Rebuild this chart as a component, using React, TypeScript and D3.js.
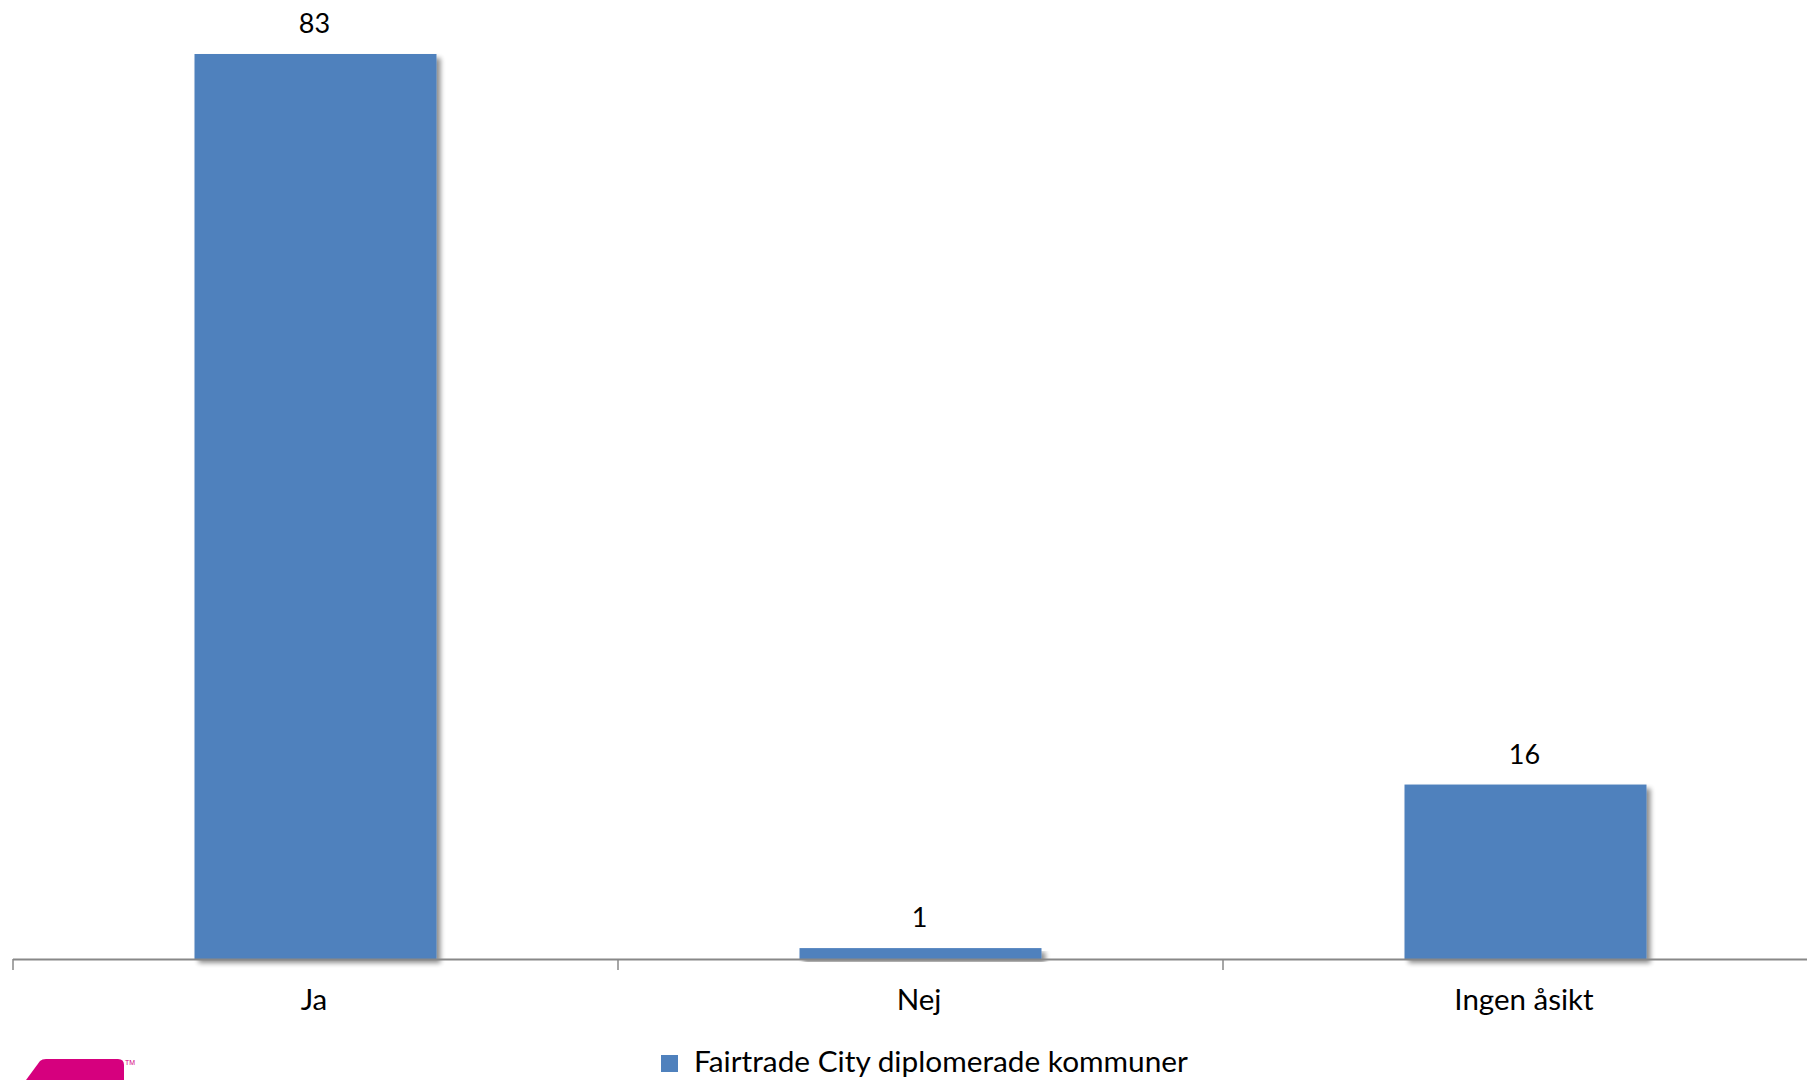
import React from "react";
import * as d3 from "d3";

const categories = ["Ja", "Nej", "Ingen åsikt"];
const values = [83, 1, 16];
const seriesName = "Fairtrade City diplomerade kommuner";

const W = 1807;
const H = 1080;
const FONT = "Lato, 'Open Sans', sans-serif";
const BAR = "#4F81BD";

export default function App() {
  const x = d3
    .scaleBand<string>()
    .domain(categories)
    .range([13, 13 + 3 * 605])
    .paddingInner(0.6)
    .paddingOuter(0.3);
  const y = d3.scaleLinear().domain([0, 83]).range([959, 54]);
  const step = x.step();
  const tickXs = d3.range(categories.length + 1).map((i) => 13 + i * step);

  return (
    <div style={{ position: "absolute", left: 0, top: 0 }}>
      <svg width={W} height={H} style={{ display: "block", background: "#fff" }}>
        <defs>
          <filter id="sh" x="-10%" y="-10%" width="130%" height="130%">
            <feGaussianBlur in="SourceAlpha" stdDeviation="2.5" />
            <feOffset dx="4" dy="4" result="b" />
            <feComponentTransfer>
              <feFuncA type="linear" slope="0.45" />
            </feComponentTransfer>
            <feMerge>
              <feMergeNode />
              <feMergeNode in="SourceGraphic" />
            </feMerge>
          </filter>
        </defs>
        {categories.map((c, i) => (
          <rect
            key={c}
            x={x(c)}
            y={y(values[i])}
            width={x.bandwidth()}
            height={y(0) - y(values[i])}
            fill={BAR}
            filter="url(#sh)"
          />
        ))}
        <line x1={13} x2={W} y1={959.5} y2={959.5} stroke="#888" strokeWidth={2} />
        {tickXs.map((tx, i) => (
          <line key={i} x1={tx} x2={tx} y1={959} y2={970} stroke="#888" strokeWidth={1.5} />
        ))}
        {categories.map((c, i) => (
          <text
            key={"v" + c}
            x={(x(c) as number) + x.bandwidth() / 2 - 1}
            y={y(values[i]) - 21}
            textAnchor="middle"
            fontFamily={FONT}
            fontSize={27}
            fill="#000"
          >
            {values[i]}
          </text>
        ))}
        {categories.map((c) => (
          <text
            key={"c" + c}
            x={(x(c) as number) + x.bandwidth() / 2 - 1.5}
            y={1010}
            textAnchor="middle"
            fontFamily={FONT}
            fontSize={29.5}
            fill="#000"
          >
            {c}
          </text>
        ))}
        <rect x={661} y={1055} width={17} height={17} fill={BAR} />
        <text x={694} y={1072} fontFamily={FONT} fontSize={29.8} fill="#000">
          {seriesName}
        </text>
        <path
          d="M26,1080 L40,1061 Q42,1059 46,1059 L118,1059 Q124,1059 124,1065 L124,1080 Z"
          fill="#D6007E"
        />
        <text x={125} y={1065} fontFamily="Arial, sans-serif" fontSize={7} fill="#D6007E">
          TM
        </text>
      </svg>
    </div>
  );
}
